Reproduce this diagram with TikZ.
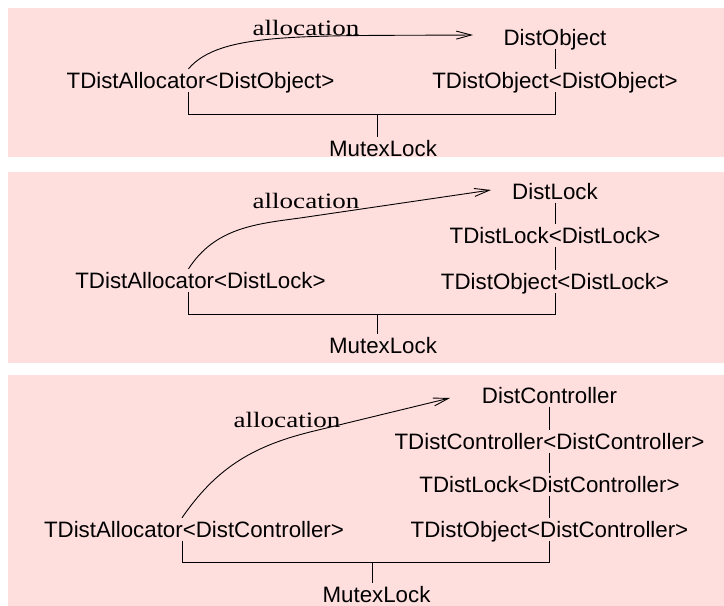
\documentclass[tikz,border=0pt]{standalone}
\usepackage{fontspec}
\setmainfont{Liberation Serif}
\newfontfamily\labsans{Liberation Sans}
\usetikzlibrary{arrows.meta}
\definecolor{panelpink}{RGB}{255,222,222}
\begin{document}
\begin{tikzpicture}[x=1pt,y=-1pt,
  cls/.style={font=\labsans\fontsize{22.3}{26}\selectfont, inner xsep=0pt, inner ysep=3.5pt, text height=15.5pt, text depth=0pt, anchor=base},
  lbl/.style={font=\fontsize{22}{26}\selectfont, inner sep=0pt, anchor=base},
  link/.style={draw=black, line width=0.9pt},
  allocarrow/.style={link, -{Straight Barb[length=15pt,width=8pt]}},
  panel/.style={fill=panelpink, draw=none}]
\useasboundingbox (0,0) rectangle (724,606);
\fill[panel] (8,8) rectangle (724,157);
\fill[panel] (8,172) rectangle (724,363);
\fill[panel] (8,375) rectangle (724,606);

% ---------- panel 1
\node[cls] (a1) at (200.5,88) {TDistAllocator<DistObject>};
\node[cls] (d1) at (555,45) {DistObject};
\node[cls] (o1) at (555,88) {TDistObject<DistObject>};
\node[cls] (m1) at (383,156) {MutexLock};
\node[lbl] (l1) at (306,35.5) {\scalebox{1.23}[1]{allocation}};
\coordinate (h1) at (0,114.5);
\coordinate (j1) at (377.5,0);
\coordinate (t1) at (473,35);
\draw[link] (d1.south) -- (o1.north);
\draw[link] ([xshift=-12pt]a1.south) |- (h1 -| o1.south) -- (o1.south);
\draw[link] (j1 |- h1) -- (m1.north -| j1);
\draw[allocarrow] ([xshift=-12pt]a1.north) .. controls (220,32) and (300,36) .. (t1);

% ---------- panel 2
\node[cls] (a2) at (200.5,288) {TDistAllocator<DistLock>};
\node[cls] (d2) at (555,199) {DistLock};
\node[cls] (k2) at (555,243) {TDistLock<DistLock>};
\node[cls] (o2) at (555,289) {TDistObject<DistLock>};
\node[cls] (m2) at (383,353) {MutexLock};
\node[lbl] (l2) at (306,208) {\scalebox{1.23}[1]{allocation}};
\coordinate (h2) at (0,314);
\coordinate (j2) at (377.5,0);
\coordinate (t2) at (491,190);
\draw[link] (d2.south) -- (k2.north);
\draw[link] (k2.south) -- (o2.north);
\draw[link] ([xshift=-12pt]a2.south) |- (h2 -| o2.south) -- (o2.south);
\draw[link] (j2 |- h2) -- (m2.north -| j2);
\draw[allocarrow] ([xshift=-12pt]a2.north) .. controls (215,228) and (255,224) .. (300,218) -- (t2);

% ---------- panel 3
\node[cls] (a3) at (194,537) {TDistAllocator<DistController>};
\node[cls] (d3) at (549.5,403) {DistController};
\node[cls] (c3) at (549.5,449) {TDistController<DistController>};
\node[cls] (k3) at (549.5,492) {TDistLock<DistController>};
\node[cls] (o3) at (549.5,537) {TDistObject<DistController>};
\node[cls] (m3) at (376.5,602) {MutexLock};
\node[lbl] (l3) at (287,427) {\scalebox{1.23}[1]{allocation}};
\coordinate (h3) at (0,562);
\coordinate (j3) at (372,0);
\coordinate (t3) at (450,398);
\draw[link] (d3.south) -- (c3.north);
\draw[link] (c3.south) -- (k3.north);
\draw[link] (k3.south) -- (o3.north);
\draw[link] ([xshift=-12pt]a3.south) |- (h3 -| o3.south) -- (o3.south);
\draw[link] (j3 |- h3) -- (m3.north -| j3);
\draw[allocarrow] ([xshift=-12pt]a3.north) .. controls (215,470) and (250,447) .. (310,432) -- (t3);
\end{tikzpicture}
\end{document}
